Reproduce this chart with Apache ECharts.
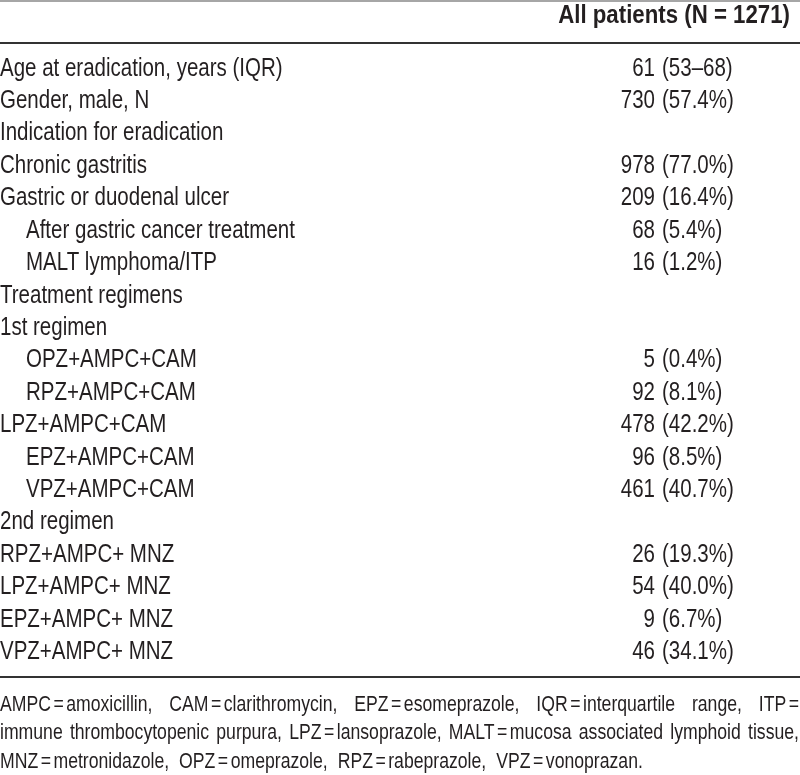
<!DOCTYPE html>
<html><head><meta charset="utf-8">
<script src="https://cdn.jsdelivr.net/npm/echarts@6/dist/echarts.min.js"></script>
<style>html,body{margin:0;padding:0;background:#fff}#c{width:800px;height:775px}</style>
</head><body><div id="c"></div>
<script>
const headerTitle = 'All patients (N = 1271)';
const rowLabels = [
  'Age at eradication, years (IQR)', 'Gender, male, N', 'Indication for eradication',
  'Chronic gastritis', 'Gastric or duodenal ulcer', 'After gastric cancer treatment',
  'MALT lymphoma/ITP', 'Treatment regimens', '1st regimen', 'OPZ+AMPC+CAM',
  'RPZ+AMPC+CAM', 'LPZ+AMPC+CAM', 'EPZ+AMPC+CAM', 'VPZ+AMPC+CAM', '2nd regimen',
  'RPZ+AMPC+ MNZ', 'LPZ+AMPC+ MNZ', 'EPZ+AMPC+ MNZ', 'VPZ+AMPC+ MNZ'
];
const rowIndent = [0,0,0,0,0,1,1,0,0,1,1,0,1,1,0,0,0,0,0];
const counts = ['61','730','','978','209','68','16','','','5','92','478','96','461','','26','54','9','46'];
const details = ['(53–68)','(57.4%)','','(77.0%)','(16.4%)','(5.4%)','(1.2%)','','','(0.4%)','(8.1%)','(42.2%)','(8.5%)','(40.7%)','','(19.3%)','(40.0%)','(6.7%)','(34.1%)'];
const footnoteLines = [
  'AMPC = amoxicillin, CAM = clarithromycin, EPZ = esomeprazole, IQR = interquartile range, ITP =',
  'immune thrombocytopenic purpura, LPZ = lansoprazole, MALT = mucosa associated lymphoid tissue,',
  'MNZ = metronidazole, OPZ = omeprazole, RPZ = rabeprazole, VPZ = vonoprazan.'
];

const W = 800, H = 775;
const FONT = '"Liberation Sans", Arial, sans-serif';
const TXT = '#231f20';
const BODY_SIZE = 25, FOOT_SIZE = 21.5, SX = 0.82;
const NUM_RIGHT = 655, PAREN_LEFT = 662, INDENT = 26;

const chart = echarts.init(document.getElementById('c'), null, {renderer: 'canvas'});

// justified footnote layout: "A = b" groups kept tight, space between groups spread over the width
const ctx = document.createElement('canvas').getContext('2d');
ctx.font = FOOT_SIZE + 'px ' + FONT;
const footY = [705, 733, 762];
const footEls = [];
const EQ_GAP = 2.5;
footnoteLines.forEach((line, li) => {
  const words = line.split(/\s+/);
  const units = [];
  words.forEach((w, k) => {
    if (w === '=' || (k > 0 && words[k - 1] === '=')) units[units.length - 1].push(w);
    else units.push([w]);
  });
  const unitW = units.map(u => u.reduce((s, p) => s + ctx.measureText(p).width * SX, 0) + EQ_GAP * (u.length - 1));
  const sum = unitW.reduce((a, b) => a + b, 0);
  const justify = li < footnoteLines.length - 1;
  const gap = justify ? (W - 1 - sum) / (units.length - 1) : 10;
  let x = 0;
  units.forEach((u, k) => {
    let px = x;
    u.forEach(p => {
      footEls.push({type: 'text', x: px, y: footY[li], scaleX: SX,
        style: {text: p, font: FOOT_SIZE + 'px ' + FONT, fill: TXT, textVerticalAlign: 'middle'}});
      px += ctx.measureText(p).width * SX + EQ_GAP;
    });
    x += unitW[k] + gap;
  });
});

const rowIdx = rowLabels.map((_, i) => i);

function textSeries(xFor, textArr, align) {
  return {
    type: 'custom', silent: true, coordinateSystem: 'cartesian2d',
    data: rowIdx.map(i => [xFor(i), i]),
    encode: {x: 0, y: 1},
    renderItem: function (params, api) {
      const pt = api.coord([api.value(0), api.value(1)]);
      return {type: 'text', x: pt[0], y: pt[1], scaleX: SX,
        style: {text: textArr[params.dataIndex], font: BODY_SIZE + 'px ' + FONT, fill: TXT,
                textAlign: align, textVerticalAlign: 'middle'}};
    }
  };
}

chart.setOption({
  animation: false,
  grid: {left: 0, right: 0, top: 52.5, bottom: 106.5, containLabel: false},
  xAxis: {type: 'value', min: 0, max: W, show: false},
  yAxis: {type: 'category', data: rowLabels, inverse: true, show: false},
  series: [
    textSeries(i => rowIndent[i] ? INDENT : 0, rowLabels, 'left'),
    textSeries(i => NUM_RIGHT, counts, 'right'),
    textSeries(i => PAREN_LEFT, details, 'left')
  ],
  graphic: [
    {type: 'line', shape: {x1: 0, y1: 1, x2: W, y2: 1}, style: {stroke: '#888', lineWidth: 1.5}},
    {type: 'text', x: 790, y: 16, scaleX: 0.89, style: {text: headerTitle, font: 'bold ' + BODY_SIZE + 'px ' + FONT, fill: TXT, textAlign: 'right', textVerticalAlign: 'middle'}},
    {type: 'line', shape: {x1: 0, y1: 43, x2: W, y2: 43}, style: {stroke: '#333', lineWidth: 2}},
    {type: 'line', shape: {x1: 0, y1: 677, x2: W, y2: 677}, style: {stroke: '#333', lineWidth: 2}}
  ].concat(footEls)
});
</script></body></html>
